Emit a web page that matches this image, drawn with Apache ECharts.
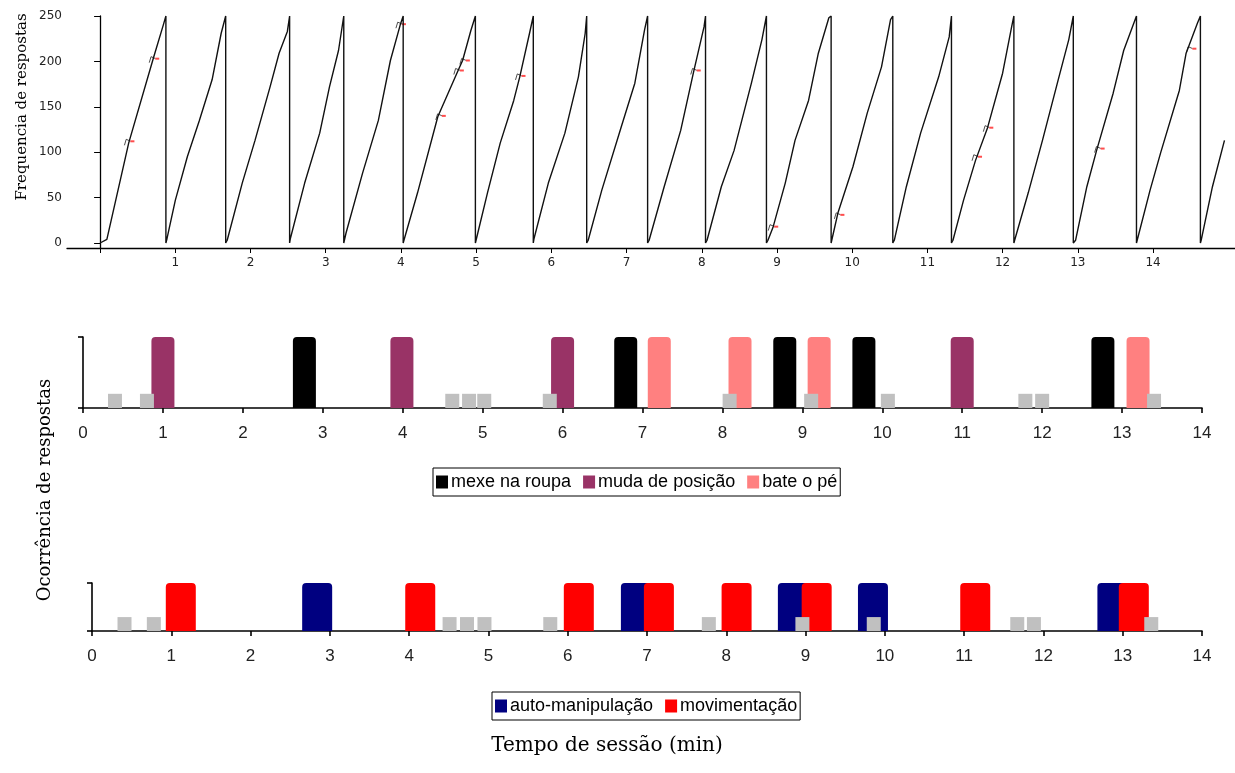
<!DOCTYPE html>
<html>
<head>
<meta charset="utf-8">
<script src="https://cdn.jsdelivr.net/npm/echarts@6/dist/echarts.min.js"></script>
<style>
  html, body { margin: 0; padding: 0; background: #fff; }
  #chart { width: 1235px; height: 773px; }
</style>
</head>
<body>
<div id="chart"></div>
<script>
// ---- Registro acumulado (minutos, respostas); o contador volta a zero ao chegar a 250 ----
const seg01 = [[0,0],[0.09,4],[0.38,110],[0.71,204],[0.84,240],[0.875,250]];
const seg02 = [[0.875,0],[0.89,5],[1.0,47],[1.16,95],[1.32,135],[1.49,180],[1.61,231],[1.67,250]];
const seg03 = [[1.67,0],[1.69,3],[1.89,66],[2.06,113],[2.26,172],[2.38,209],[2.49,233],[2.52,250]];
const seg04 = [[2.52,0],[2.53,5],[2.72,66],[2.92,121],[3.05,172],[3.17,212],[3.24,250]];
const seg05 = [[3.24,0],[3.27,11],[3.49,77],[3.70,135],[3.86,201],[3.99,240],[4.03,250]];
const seg06 = [[4.03,0],[4.04,3],[4.22,55],[4.49,139],[4.76,190],[4.82,201],[4.93,234],[4.99,250]];
const seg07 = [[4.99,0],[5.15,55],[5.32,110],[5.50,157],[5.58,183],[5.71,231],[5.76,250]];
const seg08 = [[5.76,0],[5.77,5],[5.96,66],[6.18,121],[6.36,183],[6.45,231],[6.47,250]];
const seg09 = [[6.47,0],[6.49,3],[6.67,58],[6.93,128],[7.11,176],[7.24,235],[7.28,250]];
const seg10 = [[7.28,0],[7.30,3],[7.50,62],[7.72,124],[7.89,188],[8.03,238],[8.05,250]];
const seg11 = [[8.05,0],[8.07,3],[8.26,62],[8.43,102],[8.66,176],[8.80,224],[8.86,250]];
const seg12 = [[8.86,0],[8.88,3],[8.95,18],[9.11,66],[9.24,113],[9.42,157],[9.55,209],[9.69,248],[9.72,250]];
const seg13 = [[9.72,0],[9.81,33],[10.01,84],[10.20,143],[10.39,194],[10.51,246],[10.54,250]];
const seg14 = [[10.54,0],[10.56,3],[10.72,62],[10.91,121],[11.15,183],[11.29,227],[11.32,250]];
const seg15 = [[11.32,0],[11.34,3],[11.48,47],[11.64,91],[11.80,127],[12.0,187],[12.12,238],[12.15,250]];
const seg16 = [[12.15,0],[12.16,3],[12.34,55],[12.53,113],[12.74,180],[12.88,224],[12.94,250]];
const seg17 = [[12.94,0],[12.97,3],[13.12,62],[13.25,102],[13.47,165],[13.61,212],[13.78,250]];
const seg18 = [[13.78,0],[13.96,58],[14.10,99],[14.35,168],[14.44,209],[14.59,242],[14.63,250]];
const seg19 = [[14.63,0],[14.64,3],[14.79,62],[14.95,113]];
const segmentos = [seg01, seg02, seg03, seg04, seg05, seg06, seg07, seg08, seg09, seg10,
                   seg11, seg12, seg13, seg14, seg15, seg16, seg17, seg18, seg19];

// Marcas de evento sobre o registro acumulado
const marcasEvento = [[0.39,112],[0.72,203],[4.0,241],[4.53,140],[4.77,190],[4.85,201],[5.59,184],
                      [7.92,190],[8.95,18],[9.83,31],[11.66,95],[11.81,127],[13.29,104],[14.51,214]];

const ticksFreqY = [0, 50, 100, 150, 200, 250];
const ticksTempoTopo = [0,1,2,3,4,5,6,7,8,9,10,11,12,13,14];
const rotulosTempoTopo = [1,2,3,4,5,6,7,8,9,10,11,12,13,14];

// ---- Ocorrência de respostas por categoria (instante em minutos) ----
const mexeNaRoupa    = [2.77, 6.79, 8.78, 9.77, 12.76];
const mudaDePosicao  = [1.0, 3.99, 6.0, 11.0];
const bateOPe        = [7.21, 8.22, 9.21, 13.2];
const cinzaMeio      = [0.40, 0.80, 4.62, 4.83, 5.02, 5.84, 8.09, 9.11, 10.07, 11.79, 12.0, 13.4];

const autoManipulacao = [2.84, 6.86, 8.84, 9.85, 12.87];
const movimentacao    = [1.12, 4.14, 6.14, 7.15, 8.13, 9.14, 11.14, 13.14];
const cinzaBaixo      = [0.41, 0.78, 4.51, 4.73, 4.95, 5.78, 7.78, 8.96, 9.86, 11.67, 11.88, 13.36];

const ocorrencia = 1;
const nivelCinzaMeio = 0.2;
const nivelCinzaBaixo = 0.29;

// ---- montagem ----
const registro = [].concat(...segmentos);
const pontos = (tempos, valor) => tempos.map(t => [t, valor]);

function barra(largura, raio) {
  return function (params, api) {
    const x = api.value(0);
    const base = api.coord([x, 0]);
    const topo = api.coord([x, api.value(1)]);
    return {
      type: 'rect',
      shape: { x: base[0] - largura / 2, y: topo[1], width: largura, height: base[1] - topo[1], r: [raio, raio, 0, 0] },
      style: { fill: api.visual('color') }
    };
  };
}

const fonteEixo = { fontFamily: 'Liberation Sans, Arial, sans-serif', fontSize: 17, color: '#222' };
const linhaEixo = { show: true, onZero: false, lineStyle: { color: '#000', width: 1.6 } };
const marcaEixo = { show: true, length: 5, lineStyle: { color: '#000', width: 1.6 } };

function eixoTempo(grid) {
  return {
    type: 'value', gridIndex: grid, min: 0, max: 14, interval: 1,
    axisLine: linhaEixo, axisTick: marcaEixo, splitLine: { show: false },
    axisLabel: Object.assign({ margin: 17 }, fonteEixo)
  };
}
function eixoOcorrencia(grid) {
  return {
    type: 'value', gridIndex: grid, min: 0, max: 1, interval: 1,
    axisLine: linhaEixo, axisTick: marcaEixo, splitLine: { show: false },
    axisLabel: { show: false }
  };
}

const chart = echarts.init(document.getElementById('chart'), null, { renderer: 'canvas' });

chart.setOption({
  backgroundColor: '#fff',
  animation: false,
  grid: [
    { left: 67, top: 16, width: 1168, height: 232 },
    { left: 83, top: 337, right: 33, height: 71 },
    { left: 92, top: 583, right: 33, height: 48 }
  ],
  xAxis: [
    {
      type: 'value', gridIndex: 0, min: -0.44, max: 15.09,
      axisLine: { show: true, onZero: false, lineStyle: { color: '#000', width: 1.3 } },
      axisTick: { show: true, length: 5, customValues: ticksTempoTopo, lineStyle: { color: '#000' } },
      axisLabel: { customValues: rotulosTempoTopo, margin: 9, fontFamily: 'DejaVu Sans, sans-serif', fontSize: 12, color: '#222' },
      splitLine: { show: false }
    },
    eixoTempo(1),
    eixoTempo(2)
  ],
  yAxis: [
    {
      type: 'value', gridIndex: 0, min: -5.5, max: 250,
      axisLine: { show: true, onZero: true, lineStyle: { color: '#000', width: 1.3 } },
      axisTick: { show: true, length: 6, customValues: ticksFreqY, lineStyle: { color: '#000' } },
      axisLabel: { customValues: ticksFreqY, margin: 5, fontFamily: 'DejaVu Sans, sans-serif', fontSize: 12, color: '#222' },
      splitLine: { show: false }
    },
    eixoOcorrencia(1),
    eixoOcorrencia(2)
  ],
  legend: [
    {
      data: ['mexe na roupa', 'muda de posição', 'bate o pé'],
      left: 433, top: 468, orient: 'horizontal',
      icon: 'rect', itemWidth: 12, itemHeight: 13, itemGap: 12,
      padding: [5, 3], borderColor: '#000', borderWidth: 1, backgroundColor: '#fff',
      textStyle: { fontFamily: 'Liberation Sans, Arial, sans-serif', fontSize: 18, color: '#000', padding: [0, 0, 0, -2] },
      selectedMode: false
    },
    {
      data: ['auto-manipulação', 'movimentação'],
      left: 492, top: 692, orient: 'horizontal',
      icon: 'rect', itemWidth: 12, itemHeight: 13, itemGap: 12,
      padding: [5, 3], borderColor: '#000', borderWidth: 1, backgroundColor: '#fff',
      textStyle: { fontFamily: 'Liberation Sans, Arial, sans-serif', fontSize: 18, color: '#000', padding: [0, 0, 0, -2] },
      selectedMode: false
    }
  ],
  graphic: [
    {
      type: 'text', x: 22, y: 107, rotation: Math.PI / 2,
      style: { text: 'Frequencia de respostas', font: '15px "DejaVu Serif", serif', fill: '#000', align: 'center', verticalAlign: 'middle' }
    },
    {
      type: 'text', x: 45, y: 490, rotation: Math.PI / 2,
      style: { text: 'Ocorrência de respostas', font: '18px "DejaVu Serif", serif', fill: '#000', align: 'center', verticalAlign: 'middle' }
    },
    {
      type: 'text', x: 607, y: 746,
      style: { text: 'Tempo de sessão (min)', font: '20px "DejaVu Serif", serif', fill: '#000', align: 'center', verticalAlign: 'middle' }
    }
  ],
  series: [
    {
      name: 'registro acumulado', type: 'line', xAxisIndex: 0, yAxisIndex: 0,
      data: registro, showSymbol: false, symbol: 'none',
      lineStyle: { color: '#111', width: 1.4 }
    },
    {
      name: 'marca', type: 'scatter', xAxisIndex: 0, yAxisIndex: 0,
      data: marcasEvento, symbol: 'path://M0,10 L3,0 L10,3', symbolSize: [6, 6], symbolOffset: [-2, 1],
      itemStyle: { color: 'none', borderColor: '#222', borderWidth: 1 }
    },
    {
      name: 'marca vermelha', type: 'scatter', xAxisIndex: 0, yAxisIndex: 0,
      data: marcasEvento, symbol: 'rect', symbolSize: [4, 2], symbolOffset: [3, 0],
      itemStyle: { color: '#ff2020' }
    },
    {
      name: 'mexe na roupa', type: 'custom', xAxisIndex: 1, yAxisIndex: 1,
      data: pontos(mexeNaRoupa, ocorrencia), renderItem: barra(23, 4),
      itemStyle: { color: '#000000' }, encode: { x: 0, y: 1 }
    },
    {
      name: 'muda de posição', type: 'custom', xAxisIndex: 1, yAxisIndex: 1,
      data: pontos(mudaDePosicao, ocorrencia), renderItem: barra(23, 4),
      itemStyle: { color: '#993366' }, encode: { x: 0, y: 1 }
    },
    {
      name: 'bate o pé', type: 'custom', xAxisIndex: 1, yAxisIndex: 1,
      data: pontos(bateOPe, ocorrencia), renderItem: barra(23, 4),
      itemStyle: { color: '#ff8080' }, encode: { x: 0, y: 1 }
    },
    {
      name: 'cinza meio', type: 'custom', xAxisIndex: 1, yAxisIndex: 1,
      data: pontos(cinzaMeio, nivelCinzaMeio), renderItem: barra(14, 0),
      itemStyle: { color: '#c0c0c0' }, encode: { x: 0, y: 1 }
    },
    {
      name: 'auto-manipulação', type: 'custom', xAxisIndex: 2, yAxisIndex: 2,
      data: pontos(autoManipulacao, ocorrencia), renderItem: barra(30, 4),
      itemStyle: { color: '#000080' }, encode: { x: 0, y: 1 }
    },
    {
      name: 'movimentação', type: 'custom', xAxisIndex: 2, yAxisIndex: 2,
      data: pontos(movimentacao, ocorrencia), renderItem: barra(30, 4),
      itemStyle: { color: '#ff0000' }, encode: { x: 0, y: 1 }
    },
    {
      name: 'cinza baixo', type: 'custom', xAxisIndex: 2, yAxisIndex: 2,
      data: pontos(cinzaBaixo, nivelCinzaBaixo), renderItem: barra(14, 0),
      itemStyle: { color: '#c0c0c0' }, encode: { x: 0, y: 1 }
    }
  ]
});
</script>
</body>
</html>
